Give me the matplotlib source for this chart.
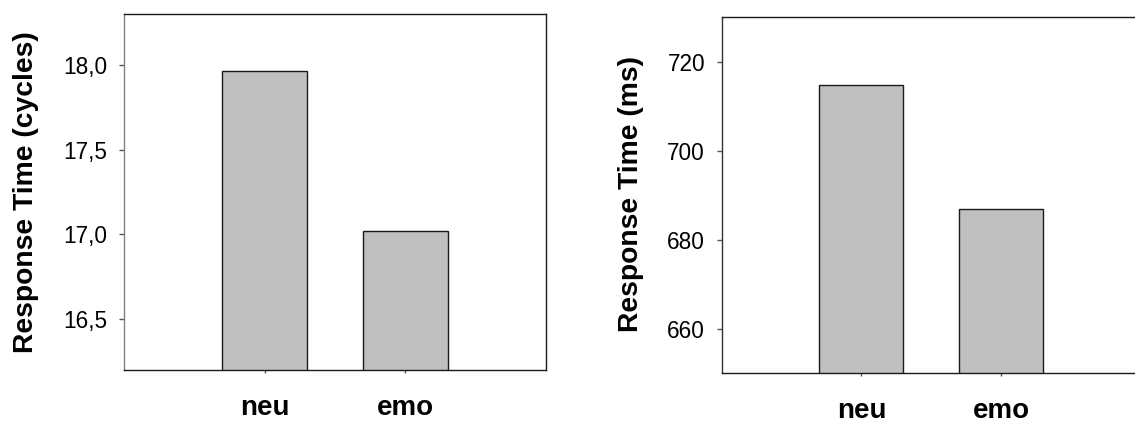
import matplotlib
matplotlib.use("Agg")
import matplotlib.pyplot as plt
from matplotlib.ticker import FuncFormatter

# Data
categories = ["neu", "emo"]
cycles_values = [17.966, 17.018]
ms_values = [714.7, 686.9]
cycles_ticks = [16.5, 17.0, 17.5, 18.0]
ms_ticks = [660, 680, 700, 720]

plt.rcParams['font.family'] = ['Liberation Sans', 'DejaVu Sans']

W, H = 1135, 422
fig = plt.figure(figsize=(W / 100, H / 100), dpi=100)

def px_axes(x0, x1, ytop, ybot):
    return [x0 / W, 1 - ybot / H, (x1 - x0) / W, (ybot - ytop) / H]

ax1 = fig.add_axes(px_axes(124, 546, 14, 370))
ax2 = fig.add_axes(px_axes(721.5, 1141.5, 17.3, 373))

positions = [1, 2]

def style(ax, values, ticks, ylim, fmt, label, label_xy, left_color):
    ax.bar(positions, values, width=0.6, color='#c0c0c0', edgecolor='#1a1a1a',
           linewidth=1.0, zorder=2)
    ax.set_xlim(0, 3)
    ax.set_ylim(*ylim)
    ax.set_yticks(ticks)
    ax.yaxis.set_major_formatter(FuncFormatter(fmt))
    ax.set_xticks(positions)
    ax.set_xticklabels(categories, fontsize=20, fontweight='bold')
    ax.tick_params(axis='y', direction='out', length=3.4, width=1.0,
                   color='#555555', labelsize=16.3, pad=8.4)
    ax.tick_params(axis='x', direction='out', length=2.4, width=1.0,
                   color='#555555', pad=15.5)
    for s in ['top', 'bottom', 'right']:
        ax.spines[s].set_color('#1a1a1a')
        ax.spines[s].set_linewidth(1.0)
    ax.spines['left'].set_color(left_color)
    ax.spines['left'].set_linewidth(1.0)
    ax.set_ylabel(label, fontsize=20.3, fontweight='bold', va='center')
    ax.yaxis.set_label_coords(label_xy[0] / W, 1 - label_xy[1] / H,
                              transform=fig.transFigure)

style(ax1, cycles_values, cycles_ticks, (16.2, 18.3),
      lambda v, p: f"{v:.1f}".replace('.', ','),
      "Response Time (cycles)", (26.5, 192.5), '#808080')
style(ax2, ms_values, ms_ticks, (650, 730),
      lambda v, p: f"{v:.0f}",
      "Response Time (ms)", (631.5, 194), '#333333')

fig.savefig("out.png", dpi=100)
